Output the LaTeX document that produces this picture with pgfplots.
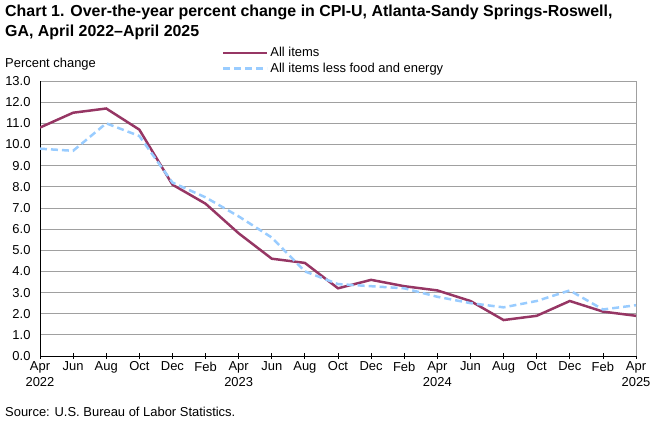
\documentclass[border=0pt]{standalone}
\usepackage{pgfplots}
\pgfplotsset{compat=1.18}
\usepackage{fontspec}
\setmainfont{Liberation Sans}

\definecolor{allitems}{RGB}{150,54,100}
\definecolor{core}{RGB}{153,204,255}
\definecolor{gridgray}{RGB}{160,160,160}

% over-the-year percent change, bimonthly, Apr 2022 .. Apr 2025 (index 0..18)
\pgfplotstableread{
idx all core
0  10.8 9.8
1  11.5 9.7
2  11.7 11.0
3  10.7 10.4
4  8.1  8.2
5  7.2  7.5
6  5.8  6.6
7  4.6  5.6
8  4.4  4.0
9  3.2  3.4
10 3.6  3.3
11 3.3  3.2
12 3.1  2.8
13 2.6  2.5
14 1.7  2.3
15 1.9  2.6
16 2.6  3.1
17 2.1  2.2
18 1.9  2.4
}\cpidata

\begin{document}
\begin{tikzpicture}[x=1bp,y=1bp]
\path[use as bounding box] (0,0) rectangle (660,420);

\node[anchor=base west, font=\bfseries\fontsize{16}{19}\selectfont, inner sep=0]
  at (5,403) {Chart 1. Over-the-year percent change in CPI-U, Atlanta-Sandy Springs-Roswell,};
\node[anchor=base west, font=\bfseries\fontsize{16}{19}\selectfont, inner sep=0]
  at (5,384) {GA, April 2022--April 2025};
\node[anchor=base west, font=\fontsize{13}{15}\selectfont, inner sep=0]
  at (5,353) {Percent change};
\node[anchor=base west, font=\fontsize{13}{15}\selectfont, inner sep=0]
  at (5,4) {Source: U.S. Bureau of Labor Statistics.};

\begin{axis}[
    at={(40bp,64bp)}, anchor=south west,
    scale only axis, width=596bp, height=275bp,
    xmin=0, xmax=18, ymin=0, ymax=13,
    axis x line*=bottom, axis y line*=left,
    axis line style={black, line width=0.8pt},
    xtick=data,
    xticklabels={{Apr\\2022},Jun,Aug,Oct,Dec,Feb,{Apr\\2023},Jun,Aug,Oct,Dec,Feb,
                 {Apr\\2024},Jun,Aug,Oct,Dec,Feb,{Apr\\2025}},
    xticklabel style={align=center, font=\fontsize{13}{16}\selectfont, inner sep=1bp,
        yshift=-1.5bp},
    xtick align=center, major tick length=6bp,
    xtick style={black, line width=0.8pt},
    ytick={0,1,...,13},
    ytick style={draw=none},
    yticklabel style={font=\fontsize{13}{15}\selectfont, /pgf/number format/fixed,
        /pgf/number format/fixed zerofill, /pgf/number format/precision=1,
        xshift=-6bp},
    /pgf/number format/assume math mode=true,
    ymajorgrids, major grid style={gridgray, line width=0.8pt},
    extra x ticks={18}, extra x tick labels={},
    extra x tick style={xmajorgrids=true, major tick length=0pt},
    legend style={at={(axis description cs:0.305,1)}, anchor=south west,
        yshift=5bp, draw=none, fill=none, inner sep=0pt,
        font=\fontsize{13}{15}\selectfont, row sep=0.5bp,
        nodes={inner sep=2bp}},
    legend cell align=left,
    legend image code/.code={\draw[#1] (0bp,0bp) -- (44bp,0bp);},
]
\addplot[allitems, line width=2.5pt] table[x=idx, y=all] {\cpidata};
\addlegendentry{All items}
\addplot[core, line width=2.5pt, dash pattern=on 7bp off 4bp] table[x=idx, y=core] {\cpidata};
\addlegendentry{All items less food and energy}
\end{axis}
\end{tikzpicture}
\end{document}
